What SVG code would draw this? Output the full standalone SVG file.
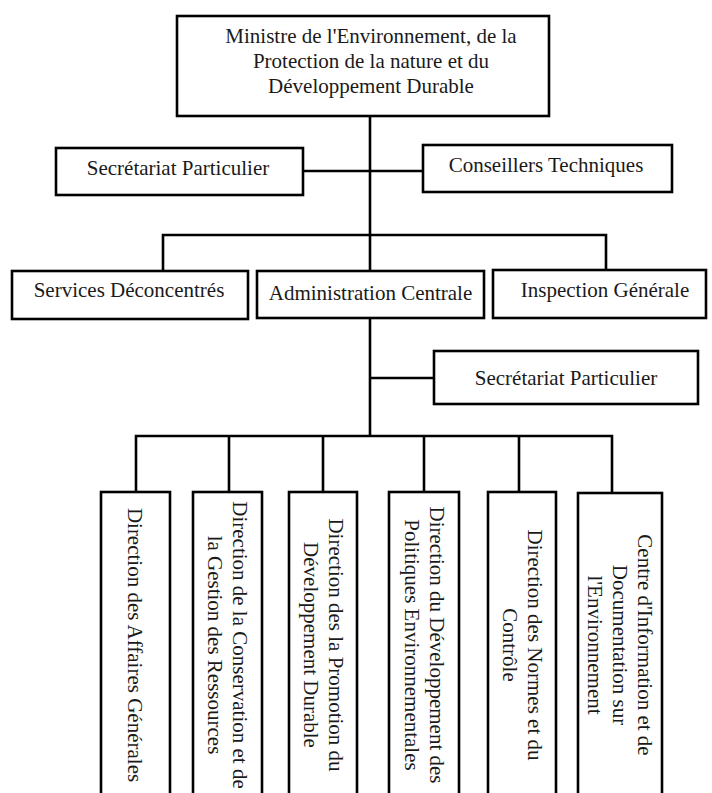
<svg xmlns="http://www.w3.org/2000/svg" width="712" height="793" viewBox="0 0 712 793">
<style>
.box{fill:#fff;stroke:#000;stroke-width:2.6}
.ln{fill:none;stroke:#000;stroke-width:2.6}
text{font-family:"Liberation Serif","Times New Roman",serif;font-size:21px;fill:#1a1a1a}
.c{text-anchor:middle}
</style>
<rect width="712" height="793" fill="#fff"/>
<g id="connectors">
<path class="ln" d="M370 116V235M303 171H423M163 271V235H606V270M370 235V271"/>
<path class="ln" d="M370 318V436M370 378H434M136 492V436H612V493M229 436V492M323 436V492M424 436V492M519 436V492"/>
</g>
<g id="ministre">
<rect class="box" x="177" y="16" width="372" height="100"/>
<text class="c" x="371" y="43">Ministre de l'Environnement, de la</text>
<text class="c" x="371" y="68">Protection de la nature et du</text>
<text class="c" x="371" y="93">Développement Durable</text>
</g>
<g id="secretariat1">
<rect class="box" x="56" y="148" width="247" height="47"/>
<text class="c" x="178" y="175">Secrétariat Particulier</text>
</g>
<g id="conseillers">
<rect class="box" x="423" y="145" width="249" height="47"/>
<text class="c" x="546" y="172">Conseillers Techniques</text>
</g>
<g id="services">
<rect class="box" x="12" y="271" width="236" height="48"/>
<text class="c" x="129" y="297">Services Déconcentrés</text>
</g>
<g id="administration">
<rect class="box" x="257" y="271" width="227" height="47"/>
<text class="c" x="370.5" y="300">Administration Centrale</text>
</g>
<g id="inspection">
<rect class="box" x="493" y="270" width="213" height="48"/>
<text class="c" x="605" y="297">Inspection Générale</text>
</g>
<g id="secretariat2">
<rect class="box" x="434" y="351" width="264" height="53"/>
<text class="c" x="566" y="385">Secrétariat Particulier</text>
</g>
<g id="daf">
<rect class="box" x="101" y="492" width="69" height="320"/>
<g transform="translate(136 645) rotate(90)"><text class="c" x="0" y="8">Direction des Affaires Générales</text></g>
</g>
<g id="dcgr">
<rect class="box" x="193" y="492" width="69" height="320"/>
<g transform="translate(227.5 645) rotate(90)"><text class="c" x="0" y="-5.5">Direction de la Conservation et de</text><text class="c" x="0" y="19.5">la Gestion des Ressources</text></g>
</g>
<g id="dpdd">
<rect class="box" x="289" y="492" width="68" height="320"/>
<g transform="translate(323 645) rotate(90)"><text class="c" x="0" y="-5.5">Direction des la Promotion du</text><text class="c" x="0" y="19.5">Développement Durable</text></g>
</g>
<g id="ddpe">
<rect class="box" x="389" y="492" width="70" height="320"/>
<g transform="translate(424 645) rotate(90)"><text class="c" x="0" y="-5.5">Direction du Développement des</text><text class="c" x="0" y="19.5">Politiques Environnementales</text></g>
</g>
<g id="dnc">
<rect class="box" x="488" y="492" width="68" height="320"/>
<g transform="translate(522 645) rotate(90)"><text class="c" x="0" y="-5.5">Direction des Normes et du</text><text class="c" x="0" y="19.5">Contrôle</text></g>
</g>
<g id="cide">
<rect class="box" x="578" y="493" width="84" height="320"/>
<g transform="translate(620 645) rotate(90)"><text class="c" x="0" y="-18">Centre d'Information et de</text><text class="c" x="0" y="7">Documentation sur</text><text class="c" x="0" y="32">l'Environnement</text></g>
</g>
</svg>
